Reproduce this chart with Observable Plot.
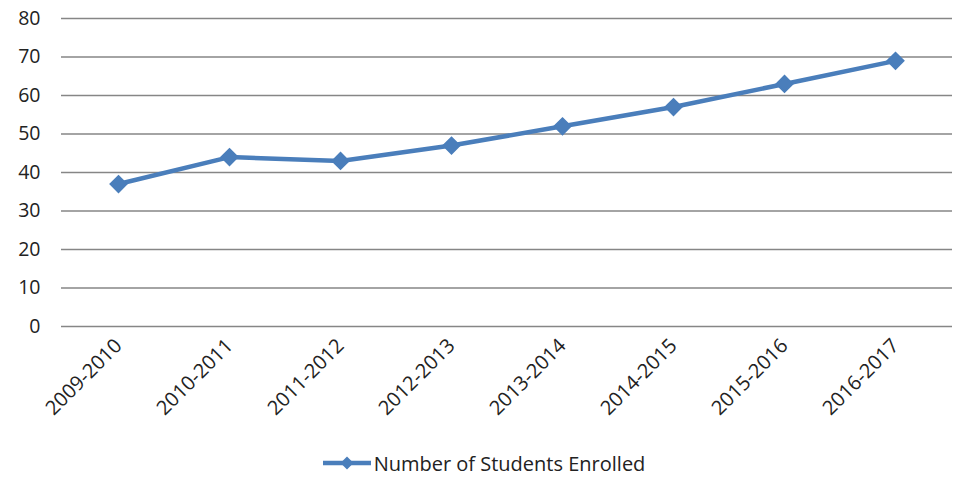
<!DOCTYPE html>
<html><head><meta charset="utf-8">
<script src="https://cdn.jsdelivr.net/npm/d3@7"></script>
<script src="https://cdn.jsdelivr.net/npm/@observablehq/plot@0.6"></script>
<style>
body{margin:0;background:#fff;font-family:"Open Sans",sans-serif;}
#legend{display:flex;justify-content:center;align-items:center;height:36px;font-size:20px;color:#222;margin-left:6px;}
#legend svg{margin-right:2px;}
</style></head>
<body><div id="chart"></div><div id="legend"></div>
<script>
const years = ["2009-2010","2010-2011","2011-2012","2012-2013","2013-2014","2014-2015","2015-2016","2016-2017"];
const enrolled = [37,44,43,47,52,57,63,69];
const yTicks = [0,10,20,30,40,50,60,70,80];
const seriesName = "Number of Students Enrolled";
const color = "#4a7ebb";
const data = years.map((y,i)=>({year:y, value:enrolled[i]}));
const chart = Plot.plot({
  width:961, height:445,
  marginLeft:61, marginRight:9, marginTop:18, marginBottom:119,
  style:{fontSize:"20px", fontFamily:"'Open Sans',sans-serif", color:"#222"},
  x:{type:"point", domain:years, padding:0.5},
  y:{domain:[0,80]},
  marks:[
    Plot.gridY(yTicks,{stroke:"#868686", strokeOpacity:1, strokeWidth:1.3}),
    Plot.axisY(yTicks,{tickSize:0, tickPadding:21, label:null, fontSize:19.5}),
    Plot.axisX({tickSize:0, tickRotate:-45, tickPadding:16, label:null, fontSize:20}),
    Plot.line(data,{x:"year", y:"value", stroke:color, strokeWidth:4.5}),
    Plot.dot(data,{x:"year", y:"value", symbol:"diamond2", r:7.5, fill:color, stroke:color})
  ]
});
document.getElementById("chart").append(chart);
const lg = document.getElementById("legend");
lg.innerHTML = `<svg width="50" height="16"><line x1="1" x2="49" y1="8" y2="8" stroke="${color}" stroke-width="4.5"/><path d="M25,1.5 L31.5,8 L25,14.5 L18.5,8Z" fill="${color}"/></svg><span>${seriesName}</span>`;
</script></body></html>
